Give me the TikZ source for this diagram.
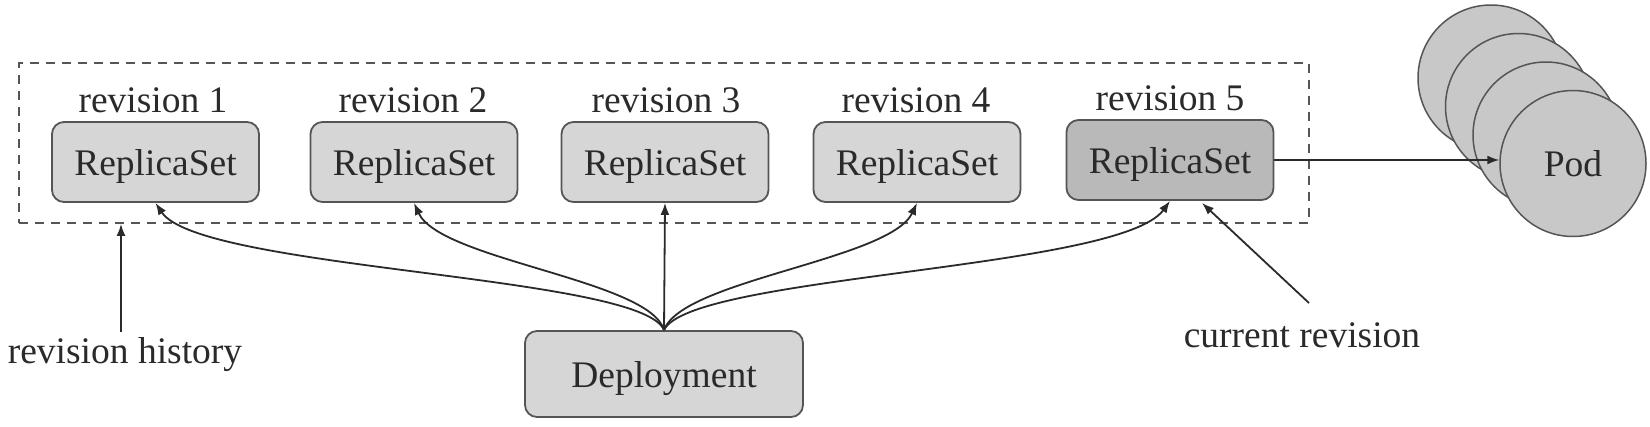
\documentclass[tikz,border=0pt]{standalone}
\usepackage{fontspec}
\setmainfont{Liberation Serif}
\usetikzlibrary{arrows.meta,calc}
\definecolor{boxfill}{HTML}{D6D6D6}
\definecolor{curfill}{HTML}{B9B9B9}
\definecolor{podfill}{HTML}{C8C8C8}
\definecolor{edge}{HTML}{555555}
\definecolor{ink}{HTML}{2A2A2A}
\begin{document}
\begin{tikzpicture}[x=1pt,y=-1pt,
  every node/.style={font=\fontsize{37.5}{44}\selectfont, text=ink},
  rsbox/.style={draw=edge, line width=1.8pt, fill=boxfill, rounded corners=12pt,
    minimum width=207pt, minimum height=80pt, inner sep=0pt, text depth=0pt},
  curbox/.style={rsbox, fill=curfill},
  depbox/.style={rsbox, minimum width=278pt, minimum height=86pt},
  podcirc/.style={circle, draw=edge, line width=1.5pt, fill=podfill, minimum size=146pt, inner sep=0pt, text depth=0pt},
  frame/.style={draw=edge, line width=1.8pt, dash pattern=on 9pt off 7pt, minimum width=1290pt, minimum height=160pt, inner sep=0pt},
  lbl/.style={anchor=base, inner sep=0pt},
  arr/.style={draw=ink, line width=1.8pt, -{Latex[length=12pt,width=9pt]}}
]
\useasboundingbox (0,0) rectangle (1650,426);

% history frame
\node[frame] (hist) at (664,143) {};

% replica sets
\node[rsbox] (rs1) at (155.5,162) {ReplicaSet};
\node[rsbox] (rs2) at (414,162) {ReplicaSet};
\node[rsbox] (rs3) at (665,162) {ReplicaSet};
\node[rsbox] (rs4) at (917,162) {ReplicaSet};
\node[curbox] (rs5) at (1170,160) {ReplicaSet};

\node[lbl] (r1) at (153,112) {revision 1};
\node[lbl] (r2) at (413,112) {revision 2};
\node[lbl] (r3) at (666,112) {revision 3};
\node[lbl] (r4) at (916,112) {revision 4};
\node[lbl] (r5) at (1170,110) {revision 5};

% deployment
\node[depbox] (dep) at (664,374) {Deployment};

% pods
\node[podcirc] (pod1) at (1491,78) {};
\node[podcirc] (pod2) at (1518.5,106.5) {};
\node[podcirc] (pod3) at (1546,135) {};
\node[podcirc] (pod4) at (1573,163.5) {Pod};

% labels
\node[lbl] (rh) at (125,363) {revision history};
\node[lbl] (cr) at (1302,347) {current revision};
\coordinate (rhtop) at (121,332);
\coordinate (crtop) at (1309,303);
\coordinate (crend) at (1202,203);

% connectors
\draw[arr] (dep.north) -- (rs3.south);
\draw[arr] (dep.north) .. controls (642,275) and (200,270) .. (rs1.south);
\draw[arr] (dep.north) .. controls (650,280) and (440,260) .. (rs2.south);
\draw[arr] (dep.north) .. controls (682,280) and (890,260) .. (rs4.south);
\draw[arr] (dep.north) .. controls (690,275) and (1120,270) .. (rs5.south);
\draw[arr] (rs5.east) -- (rs5.east -| pod4.west);
\draw[arr] (rhtop) -- (rhtop |- hist.south);
\draw[arr] (crtop) -- (crend);
\end{tikzpicture}
\end{document}
